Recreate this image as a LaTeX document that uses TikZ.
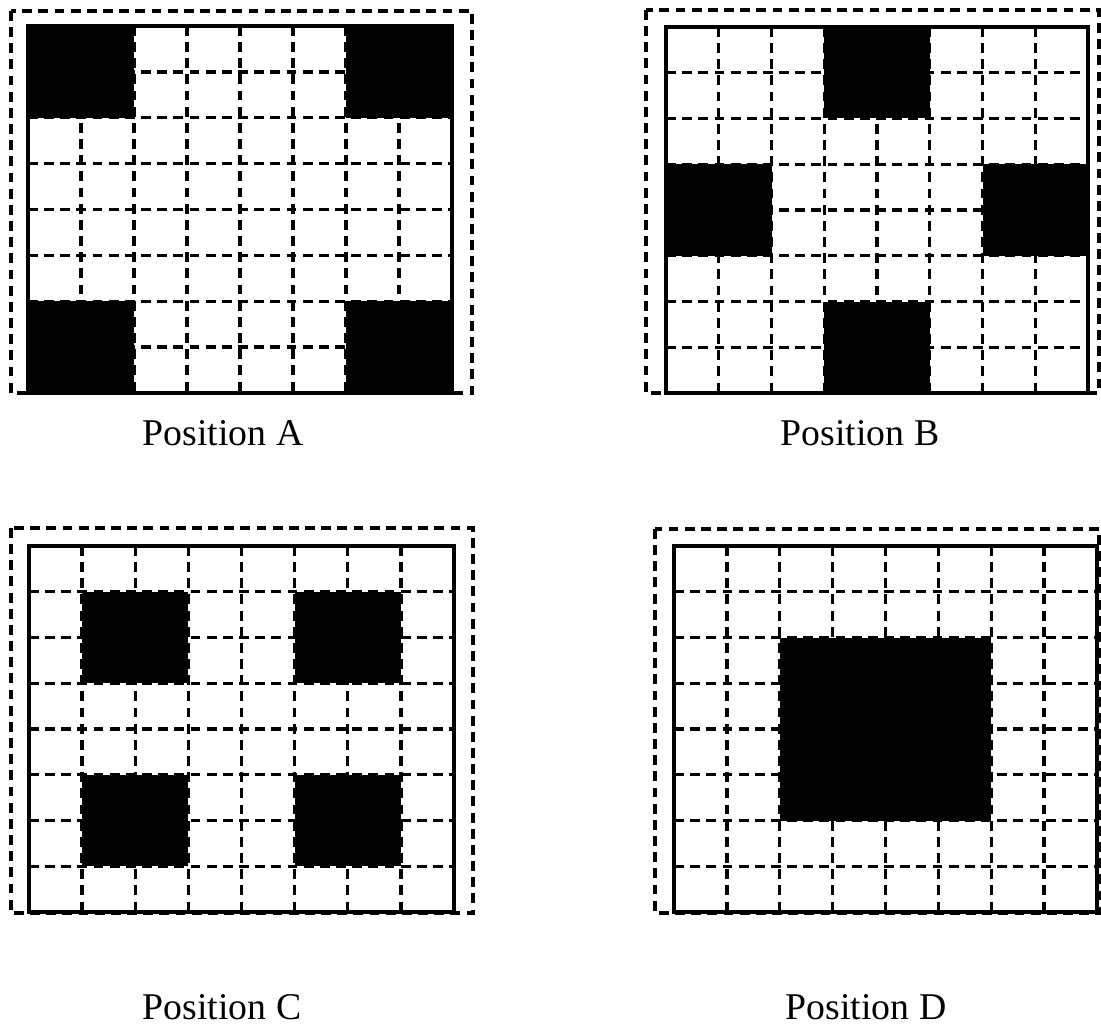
\documentclass[tikz,border=0pt]{standalone}
\usepackage{fontspec}
\setmainfont{Liberation Serif}
\usetikzlibrary{positioning}

\begin{document}
\begin{tikzpicture}[
		x=0.02cm,y=-0.02cm,
		gridline/.style={
			line width=1.9pt,
			dash pattern=on 5.6pt off 3.6pt
		},
		outerline/.style={
			line width=1.9pt,
			dash pattern=on 5.6pt off 3.6pt
		},
		frame/.style={
			line width=2.3pt
		},
		cellfill/.style={
			fill=black
		},
		poslabel/.style={
			anchor=base,
			inner sep=0pt,
			font=\fontsize{21.5}{25}\selectfont
		}
		]
		
		\useasboundingbox (0,0) rectangle (1101,1027);
		
		%--------------------------------------------------
		% Position A
		%--------------------------------------------------
		
		\begin{scope}[shift={(28,26)}]
			\draw[outerline] (-17,-15) rectangle (444,367);
			\foreach \i in {1,...,7} {
				\draw[gridline] (\i*53,0) -- (\i*53,367);
				\draw[gridline] (0,\i*45.875) -- (424,\i*45.875);
			}
			\foreach \c/\r in {0/0,6/0,0/6,6/6}
				\fill[cellfill] (\c*53,\r*45.875) rectangle ++(106,91.75);
			\draw[frame] (0,0) rectangle (424,367);
		\end{scope}
		
		\node[poslabel] (labelA) at (223,445) {Position A};
		
		%--------------------------------------------------
		% Position B
		%--------------------------------------------------
		
		\begin{scope}[shift={(666,27)}]
			\draw[outerline] (-20,-17) rectangle (433,366);
			\foreach \i in {1,...,7} {
				\draw[gridline] (\i*52.75,0) -- (\i*52.75,366);
				\draw[gridline] (0,\i*45.75) -- (422,\i*45.75);
			}
			\foreach \c/\r in {3/0,0/3,6/3,3/6}
				\fill[cellfill] (\c*52.75,\r*45.75) rectangle ++(105.5,91.5);
			\draw[frame] (0,0) rectangle (422,366);
		\end{scope}
		
		\node[poslabel] (labelB) at (860,445) {Position B};
		
		%--------------------------------------------------
		% Position C
		%--------------------------------------------------
		
		\begin{scope}[shift={(29,546)}]
			\draw[outerline] (-18,-18) rectangle (444,367);
			\foreach \i in {1,...,7} {
				\draw[gridline] (\i*53.125,0) -- (\i*53.125,366);
				\draw[gridline] (0,\i*45.75) -- (425,\i*45.75);
			}
			\foreach \c/\r in {1/1,5/1,1/5,5/5}
				\fill[cellfill] (\c*53.125,\r*45.75) rectangle ++(106.25,91.5);
			\draw[frame] (0,0) rectangle (425,366);
		\end{scope}
		
		\node[poslabel] (labelC) at (222,1019) {Position C};
		
		%--------------------------------------------------
		% Position D
		%--------------------------------------------------
		
		\begin{scope}[shift={(674,546)}]
			\draw[outerline] (-19,-17) rectangle (425,367);
			\foreach \i in {1,...,7} {
				\draw[gridline] (\i*52.875,0) -- (\i*52.875,366);
				\draw[gridline] (0,\i*45.75) -- (423,\i*45.75);
			}
			\fill[cellfill] (2*52.875,2*45.75) rectangle ++(211.5,183);
			\draw[frame] (0,0) rectangle (423,366);
		\end{scope}
		
		\node[poslabel] (labelD) at (866,1019) {Position D};
		
	\end{tikzpicture}
\end{document}
